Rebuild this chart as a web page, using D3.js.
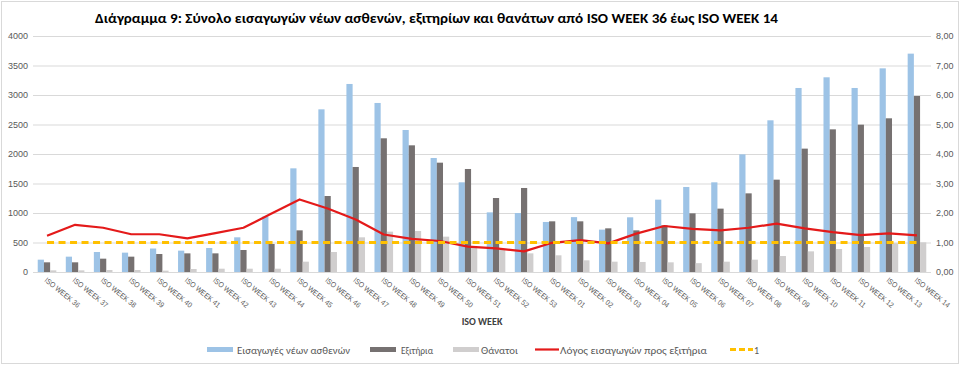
<!DOCTYPE html>
<html><head><meta charset="utf-8">
<script src="https://cdn.jsdelivr.net/npm/d3@7"></script>
<style>body{margin:0;background:#fff;} svg{display:block;font-family:Calibri,"Liberation Sans","Open Sans",sans-serif;}</style>
</head><body>
<svg id="chart" width="960" height="366"></svg>
<script>
const weeks = ["ISO WEEK 36","ISO WEEK 37","ISO WEEK 38","ISO WEEK 39","ISO WEEK 40","ISO WEEK 41","ISO WEEK 42","ISO WEEK 43","ISO WEEK 44","ISO WEEK 45","ISO WEEK 46","ISO WEEK 47","ISO WEEK 48","ISO WEEK 49","ISO WEEK 50","ISO WEEK 51","ISO WEEK 52","ISO WEEK 53","ISO WEEK 01","ISO WEEK 02","ISO WEEK 03","ISO WEEK 04","ISO WEEK 05","ISO WEEK 06","ISO WEEK 07","ISO WEEK 08","ISO WEEK 09","ISO WEEK 10","ISO WEEK 11","ISO WEEK 12","ISO WEEK 13","ISO WEEK 14"];
const admissions = [209,260,339,328,398,362,407,588,940,1757,2757,3187,2865,2407,1932,1520,1011,1000,848,930,718,927,1226,1441,1520,1994,2571,3119,3300,3119,3452,3701];
const exits = [164,164,226,260,305,316,316,373,475,706,1288,1780,2266,2147,1853,1746,1254,1424,859,859,740,706,791,994,1074,1333,1565,2091,2418,2497,2605,2983];
const deaths = [28,28,34,34,23,51,56,56,56,175,339,588,684,695,599,430,373,316,283,198,175,170,164,150,175,209,271,350,390,424,488,503];
const ratio = [1.23,1.60,1.50,1.28,1.28,1.14,1.32,1.50,1.98,2.46,2.15,1.78,1.27,1.12,1.05,0.86,0.80,0.70,0.99,1.08,0.97,1.30,1.56,1.46,1.41,1.50,1.64,1.48,1.35,1.25,1.31,1.24];
const reference = weeks.map(() => 1);
const leftTicks = [0,500,1000,1500,2000,2500,3000,3500,4000];
const rightTicks = [0,1,2,3,4,5,6,7,8];
const seriesNames = ["Εισαγωγές νέων ασθενών","Εξιτήρια","Θάνατοι","Λόγος εισαγωγών προς εξιτήρια","1"];
const title = "Διάγραμμα 9: Σύνολο εισαγωγών νέων ασθενών, εξιτηρίων και θανάτων από ISO WEEK 36 έως ISO WEEK 14";
const xTitle = "ISO WEEK";

const colors = {adm:"#9dc3e6", exi:"#767171", dea:"#d0cece", ratio:"#e41a1a", ref:"#ffc000"};
const svg = d3.select("#chart");
const L = 33, R = 931, T = 36, B = 272;

svg.append("rect").attr("x",1.5).attr("y",1.5).attr("width",957).attr("height",362)
  .attr("fill","#fff").attr("stroke","#d9d9d9");

const x = d3.scaleBand().domain(weeks).range([L,R]).paddingInner(0.337).paddingOuter(0.1685);
const sub = d3.scaleBand().domain(["adm","exi","dea"]).range([0,x.bandwidth()]);
const yL = d3.scaleLinear().domain([0,4000]).range([B,T]);
const yR = d3.scaleLinear().domain([0,8]).range([B,T]);

// gridlines
const gridAxis = d3.axisLeft(yL).tickValues(leftTicks).tickSize(-(R-L)).tickFormat("");
const gg = svg.append("g").attr("transform",`translate(${L},0)`).call(gridAxis);
gg.select(".domain").remove();
gg.selectAll("line").attr("stroke","#d9d9d9").attr("stroke-width",1);

// left axis labels
const la = svg.append("g").attr("transform",`translate(${L},0)`)
  .call(d3.axisLeft(yL).tickValues(leftTicks).tickSize(0).tickPadding(5).tickFormat(d3.format("d")));
la.select(".domain").remove();
la.selectAll("text").attr("fill","#595959").style("font-size","9px");

// right axis labels
const ra = svg.append("g").attr("transform",`translate(${R},0)`)
  .call(d3.axisRight(yR).tickValues(rightTicks).tickSize(0).tickPadding(5)
    .tickFormat(d => d3.format(".2f")(d).replace(".",",")));
ra.select(".domain").remove();
ra.selectAll("text").attr("fill","#595959").style("font-size","9px");

// bars
const series = [["adm",admissions],["exi",exits],["dea",deaths]];
series.forEach(([k,vals]) => {
  svg.append("g").selectAll("rect").data(vals).join("rect")
    .attr("x",(d,i) => x(weeks[i]) + sub(k))
    .attr("y",d => yL(d))
    .attr("width",sub.bandwidth())
    .attr("height",d => B - yL(d))
    .attr("fill",colors[k]);
});

// baseline
svg.append("line").attr("x1",L).attr("x2",R).attr("y1",B+0.5).attr("y2",B+0.5).attr("stroke","#d9d9d9");

const cx = w => x(w) + x.bandwidth()/2;
const line = d3.line().x((d,i) => cx(weeks[i])).y(d => yR(d));
svg.append("path").datum(ratio).attr("d",line).attr("fill","none")
  .attr("stroke",colors.ratio).attr("stroke-width",2.2).attr("stroke-linejoin","round");
svg.append("path").datum(reference).attr("d",line).attr("fill","none")
  .attr("stroke",colors.ref).attr("stroke-width",3).attr("stroke-dasharray","7,4.5");

// x labels
const xa = svg.append("g").attr("transform",`translate(0,${B})`)
  .call(d3.axisBottom(x).tickSize(0).tickPadding(0));
xa.select(".domain").remove();
xa.selectAll("text").attr("fill","#595959").style("font-size","7.5px")
  .attr("text-anchor","start").attr("dy",0).attr("y",0)
  .attr("textLength",43).attr("lengthAdjust","spacingAndGlyphs")
  .attr("transform","translate(-3,9) rotate(39)");

// title
svg.append("text").attr("x",95).attr("y",23).attr("font-weight","bold")
  .style("font-size","13.5px").attr("fill","#000").attr("textLength",683)
  .attr("lengthAdjust","spacingAndGlyphs").text(title);

// x title
svg.append("text").attr("x",(L+R)/2).attr("y",325).attr("text-anchor","middle")
  .attr("font-weight","bold").style("font-size","10px").attr("fill","#404040").text(xTitle);

// legend
const lg = svg.append("g").style("font-size","10px").attr("fill","#595959");
const ly = 350;
const items = [
  {x:207, type:"rect", c:colors.adm, tx:237, t:seriesNames[0], w:113},
  {x:370, type:"rect", c:colors.exi, tx:401, t:seriesNames[1], w:32},
  {x:453, type:"rect", c:colors.dea, tx:481, t:seriesNames[2], w:37},
  {x:535, type:"line", c:colors.ratio, tx:560, t:seriesNames[3], w:147},
  {x:730, type:"dash", c:colors.ref, tx:754, t:seriesNames[4], w:0}
];
items.forEach(it => {
  if (it.type === "rect") {
    lg.append("rect").attr("x",it.x).attr("y",ly-3).attr("width",26).attr("height",5).attr("fill",it.c);
  } else if (it.type === "line") {
    lg.append("line").attr("x1",it.x).attr("x2",it.x+24).attr("y1",ly-0.5).attr("y2",ly-0.5)
      .attr("stroke",it.c).attr("stroke-width",2.2);
  } else {
    lg.append("line").attr("x1",it.x).attr("x2",it.x+23).attr("y1",ly-0.5).attr("y2",ly-0.5)
      .attr("stroke",it.c).attr("stroke-width",3).attr("stroke-dasharray","6,3");
  }
  const t = lg.append("text").attr("x",it.tx).attr("y",ly+3.5).text(it.t);
  if (it.w) t.attr("textLength",it.w).attr("lengthAdjust","spacingAndGlyphs");
});
</script>
</body></html>
